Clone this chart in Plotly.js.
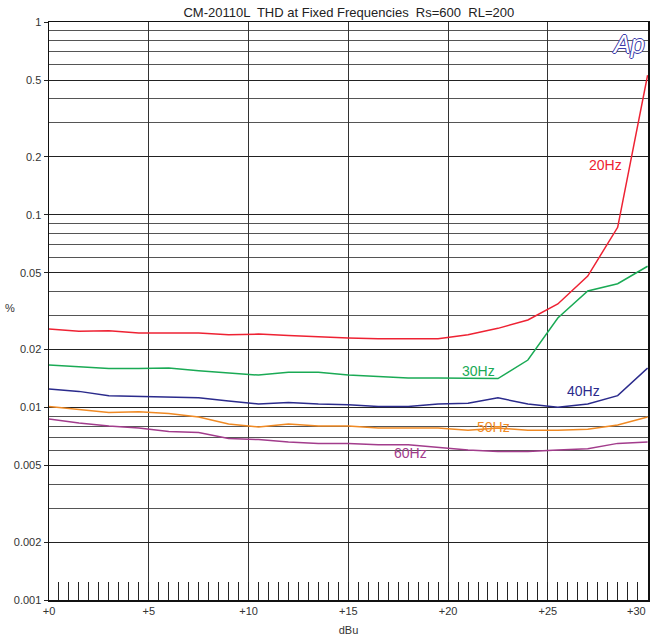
<!DOCTYPE html>
<html>
<head>
<meta charset="utf-8">
<script src="https://cdn.plot.ly/plotly-3.0.1.min.js"></script>
<style>html,body{margin:0;padding:0;background:#fff;}#chart{width:652px;height:641px;}</style>
</head>
<body>
<div id="chart"></div>
<script>
const dBu = [0,1.5,3,4.5,6,7.5,9,10.5,12,13.5,15,16.5,18,19.5,21,22.5,24,25.5,27,28.5,30];
const thd20 = [0.0255,0.0248,0.025,0.0243,0.0243,0.0243,0.0238,0.024,0.0236,0.0232,0.0229,0.0227,0.0227,0.0227,0.0238,0.0257,0.0284,0.0344,0.048,0.086,0.53];
const thd30 = [0.0166,0.0162,0.0159,0.0159,0.016,0.0155,0.0151,0.0147,0.0152,0.0152,0.0147,0.0144,0.0142,0.0142,0.0141,0.0141,0.0176,0.0291,0.0402,0.0438,0.054];
const thd40 = [0.01246,0.0121,0.0115,0.0114,0.0114,0.0112,0.0108,0.0104,0.0106,0.0104,0.0103,0.0101,0.0101,0.0104,0.0105,0.0112,0.0104,0.0100,0.0104,0.0115,0.016];
const thd50 = [0.0101,0.0097,0.0094,0.0095,0.0093,0.0089,0.0082,0.0079,0.0082,0.0080,0.0080,0.0078,0.0078,0.0078,0.0076,0.0078,0.0076,0.0076,0.0077,0.0081,0.0089];
const thd60 = [0.0087,0.0083,0.0080,0.0078,0.0075,0.0074,0.0069,0.0068,0.0066,0.0065,0.0065,0.0064,0.0064,0.0062,0.0060,0.0059,0.0059,0.0060,0.0061,0.0065,0.0066];
const seriesNames = ['20Hz','30Hz','40Hz','50Hz','60Hz'];
const seriesColors = ['#ee2233','#1aaa55','#2b2b8c','#f08a24','#a23c8c'];
const yTickVals = [0.001,0.002,0.005,0.01,0.02,0.05,0.1,0.2,0.5,1];
const yTickText = ['0.001','0.002','0.005','0.01','0.02','0.05','0.1','0.2','0.5','1'];
const yMinorVals = [0.003,0.004,0.006,0.007,0.008,0.009,0.03,0.04,0.06,0.07,0.08,0.09,0.3,0.4,0.6,0.7,0.8,0.9];
const xTickVals = [0,5,10,15,20,25,30];
const xTickText = ['+0','+5','+10','+15','+20','+25',''];
const lastXLabel = '+30';
// label anchor positions [dBu, %]
const labelPos = [[27.9,0.18],[21.5,0.0155],[26.8,0.0122],[22.3,0.0079],[18.1,0.0058]];

const font = "'Liberation Sans Narrow', 'Arial Narrow', 'Liberation Sans', Arial, sans-serif";
const allY = [thd20,thd30,thd40,thd50,thd60];
const traces = allY.map((y,i)=>({
  x: dBu, y: y, type:'scatter', mode:'lines', name: seriesNames[i],
  line:{color: seriesColors[i], width:1.5}, hoverinfo:'skip', cliponaxis:false
}));
const annotations = seriesNames.map((n,i)=>({
  x: labelPos[i][0], y: Math.log10(labelPos[i][1]), xref:'x', yref:'y',
  text:n, showarrow:false, font:{family:font, size:14, color:seriesColors[i]}
}));
annotations.push({
  xref:'x', yref:'paper', x:30, y:0, xanchor:'right', yanchor:'top', yshift:-3,
  text:lastXLabel, showarrow:false, font:{family:font, size:11, color:'#333'}
});
annotations.push({
  xref:'paper', yref:'paper', x:0.999, y:0.99, xanchor:'right', yanchor:'top',
  text:'<i>Ap</i>', showarrow:false,
  font:{family:"'Liberation Sans', Arial, sans-serif", size:25, color:'#ffffff',
        shadow:'1px 0 0 #3a3aa8, -1px 0 0 #3a3aa8, 0 1px 0 #3a3aa8, 0 -1px 0 #3a3aa8'}
});
annotations.push({
  xref:'paper', yref:'paper', x:-0.065, y:0.505, xanchor:'center', yanchor:'middle',
  text:'%', showarrow:false, font:{family:font, size:11, color:'#333'}
});
const layout = {
  width:652, height:641,
  margin:{l:49, r:4, t:22, b:41},
  paper_bgcolor:'#fff', plot_bgcolor:'#fff',
  showlegend:false,
  title:{text:'CM-20110L  THD at Fixed Frequencies  Rs=600  RL=200', x:0.535, xanchor:'center', y:0.988, yanchor:'top',
         font:{family:font, size:13, color:'#222'}},
  font:{family:font, size:11, color:'#333'},
  xaxis:{
    range:[0,30.02], tickvals:xTickVals, ticktext:xTickText,
    ticks:'inside', ticklen:18, tickcolor:'#222', tickwidth:1,
    showgrid:true, gridcolor:'#333', gridwidth:1,
    showline:true, linecolor:'#111', linewidth:1.5, mirror:true,
    zeroline:false,
    minor:{dtick:0.5, tick0:0, ticks:'inside', ticklen:18, tickcolor:'#222', tickwidth:1, showgrid:false},
    title:{text:'dBu', font:{family:font, size:11, color:'#333'}, standoff:10},
    tickfont:{family:font, size:11, color:'#333'}
  },
  yaxis:{
    type:'log', range:[-3,0], tickvals:yTickVals, ticktext:yTickText,
    ticks:'outside', ticklen:4, tickcolor:'#222',
    showgrid:true, gridcolor:'#222', gridwidth:1,
    showline:true, linecolor:'#111', linewidth:1.5, mirror:true,
    zeroline:false,
    minor:{tickvals:yMinorVals, ticks:'', showgrid:true, gridcolor:'#555', gridwidth:1},
    tickfont:{family:font, size:11, color:'#333'}
  },
  annotations: annotations
};
Plotly.newPlot('chart', traces, layout, {displayModeBar:false, staticPlot:true});
</script>
</body>
</html>
